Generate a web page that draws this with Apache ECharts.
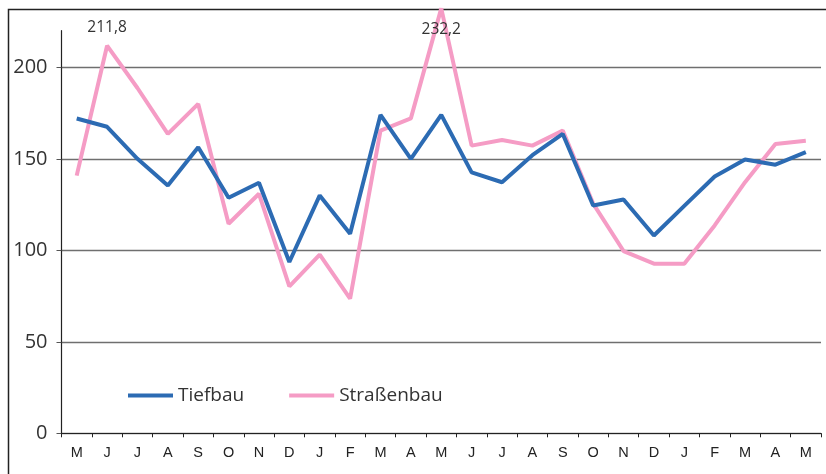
<!DOCTYPE html>
<html><head><meta charset="utf-8">
<script src="https://cdn.jsdelivr.net/npm/echarts@6/dist/echarts.min.js"></script>
<style>html,body{margin:0;padding:0;background:#fff}#c{width:826px;height:474px}</style>
</head><body><div id="c"></div>
<script>
const categories = ['M','J','J','A','S','O','N','D','J','F','M','A','M','J','J','A','S','O','N','D','J','F','M','A','M'];
const tiefbau = [172,167.5,150,135.4,156.3,128.7,136.9,93.6,130,109,174,150,174,142.6,137.2,152,163.6,124.5,127.8,108.1,124.3,140.3,149.6,146.8,153.6];
const strassenbau = [140.8,211.8,188.7,163.6,180,114.5,130.9,80.3,97.6,73.6,165.4,172.1,232.2,157.2,160.3,157.2,165.4,125.5,99.6,92.7,92.7,113.6,137.2,158.1,159.9];
const yTicks = [0,50,100,150,200];
const labelled = {1: 'top', 12: 'bottom'};

const fmt = v => String(v).replace('.', ',');
const pinkData = strassenbau.map((v, i) => labelled[i] ? {
  value: v,
  label: {show: true, position: labelled[i], distance: labelled[i] === 'top' ? 10 : 13}
} : v);

const chart = echarts.init(document.getElementById('c'), null, {renderer: 'canvas'});
chart.setOption({
  animation: false,
  backgroundColor: '#fff',
  graphic: [{type: 'rect', shape: {x: 8.5, y: 9.5, width: 900, height: 600},
    style: {fill: 'none', stroke: '#222', lineWidth: 1.5}, z: -1}],
  grid: {left: 61.5, right: 5, top: 30.7, bottom: 40.7},
  legend: {
    left: 123, top: 381, icon: 'rect', itemWidth: 45, itemHeight: 4, itemGap: 45,
    textStyle: {fontSize: 19, color: '#333', fontFamily: 'Open Sans'},
    data: ['Tiefbau', 'Straßenbau']
  },
  xAxis: {
    type: 'category', data: categories, boundaryGap: true,
    axisLine: {lineStyle: {color: '#222', width: 1.2}},
    axisTick: {show: true, length: 4, lineStyle: {color: '#222'}},
    axisLabel: {fontSize: 14.5, color: '#222', fontFamily: 'Liberation Sans', margin: 12, interval: 0}
  },
  yAxis: {
    type: 'value', min: 0, max: 220, interval: 50,
    axisLine: {show: true, lineStyle: {color: '#222', width: 1.2}},
    axisTick: {show: true, length: 5, customValues: yTicks, lineStyle: {color: '#555'}},
    axisLabel: {fontSize: 20, color: '#333', fontFamily: 'Open Sans', margin: 14, customValues: yTicks},
    splitLine: {show: true, lineStyle: {color: '#6f6f6f', width: 1.3}}
  },
  series: [
    {name: 'Tiefbau', type: 'line', data: tiefbau, symbol: 'none', clip: false,
      lineStyle: {color: '#2C6BB3', width: 4}, itemStyle: {color: '#2C6BB3'}, z: 3},
    {name: 'Straßenbau', type: 'line', data: pinkData, symbol: 'circle', symbolSize: 0,
      showSymbol: true, showAllSymbol: true, clip: false,
      label: {show: false, formatter: p => fmt(p.value), fontSize: 15.5, color: '#333', fontFamily: 'Open Sans'},
      lineStyle: {color: '#F59CC5', width: 4}, itemStyle: {color: '#F59CC5'}, z: 2}
  ]
});
</script></body></html>
